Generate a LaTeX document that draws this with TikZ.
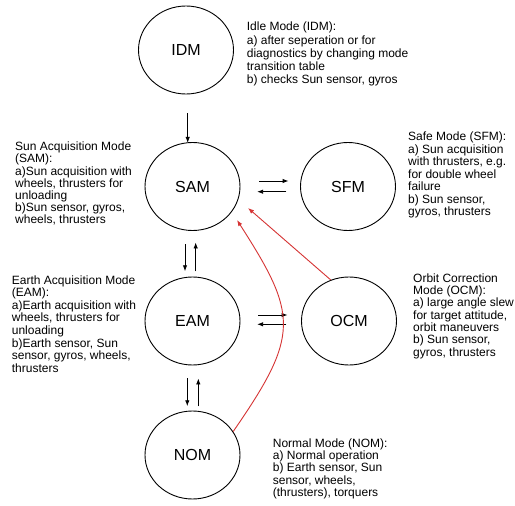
\documentclass[tikz,border=0pt]{standalone}
\usepackage{fontspec}
\setmainfont{Liberation Sans}
\usetikzlibrary{shapes.geometric,arrows.meta,calc}
\definecolor{redline}{RGB}{214,52,52}
\tikzset{
  mode/.style={draw=black, line width=0.9pt, ellipse, minimum width=95pt, minimum height=88pt, inner sep=0pt, font=\fontsize{16}{18}\selectfont},
  desc/.style={anchor=north west, align=left, inner sep=0pt, font=\fontsize{12}{12.5}\selectfont},
  arr/.style={draw=black, line width=0.9pt, -{Latex[length=6pt,width=4.5pt]}},
  redarr/.style={draw=redline, line width=0.9pt, -{Latex[length=6pt,width=4.5pt]}}
}
\begin{document}
\begin{tikzpicture}[x=1pt,y=-1pt]
\fill[white] (0,0) rectangle (515,506);
\useasboundingbox (0,0) rectangle (515,506);

% mode circles
\node[mode] (idm) at (186,50) {IDM};
\node[mode] (sam) at (192.5,186.5) {SAM};
\node[mode] (sfm) at (348,186.5) {SFM};
\node[mode] (eam) at (192.5,321) {EAM};
\node[mode] (ocm) at (349,321) {OCM};
\node[mode] (nom) at (192.5,455) {NOM};

% descriptions
\node[desc, font=\fontsize{12}{13.3}\selectfont] (tidm) at (246.7,21.9) {Idle Mode (IDM):\\a) after seperation or for\\diagnostics by changing mode\\transition table\\b) checks Sun sensor, gyros};
\node[desc, font=\fontsize{12}{12.2}\selectfont] (tsam) at (15,141.9) {Sun Acquisition Mode\\(SAM):\\a)Sun acquisition with\\wheels, thrusters for\\unloading\\b)Sun sensor, gyros,\\wheels, thrusters};
\node[desc] (tsfm) at (408,131.9) {Safe Mode (SFM):\\a) Sun acquisition\\with thrusters, e.g.\\for double wheel\\failure\\b) Sun sensor,\\gyros, thrusters};
\node[desc, font=\fontsize{12}{12.6}\selectfont] (team) at (11.7,275.2) {Earth Acquisition Mode\\(EAM):\\a)Earth acquisition with\\wheels, thrusters for\\unloading\\b)Earth sensor, Sun\\sensor, gyros, wheels,\\thrusters};
\node[desc, font=\fontsize{12}{12.3}\selectfont] (tocm) at (413,273.5) {Orbit Correction\\Mode (OCM):\\a) large angle slew\\for target attitude,\\orbit maneuvers\\b) Sun sensor,\\gyros, thrusters};
\node[desc, font=\fontsize{12}{12.25}\selectfont] (tnom) at (272.7,438.5) {Normal Mode (NOM):\\a) Normal operation\\b) Earth sensor, Sun\\sensor, wheels,\\(thrusters), torquers};

% black transitions
\draw[arr] ($(idm.south)+(1.7,19)$) -- ($(sam.north)+(-4.8,0.8)$);
\draw[arr] ($(sam.east)+(19,-5.5)$) -- ($(sfm.west)+(-11.5,-5.5)$);
\draw[arr] ($(sfm.west)+(-13.8,5.2)$) -- ($(sam.east)+(16.7,5.2)$);
\draw[arr] ($(sam.south)+(-7.5,13.5)$) -- ($(eam.north)+(-7.5,-5.3)$);
\draw[arr] ($(eam.north)+(3.2,-5.3)$) -- ($(sam.south)+(3.2,11.5)$);
\draw[arr] ($(eam.east)+(18,-6)$) -- ($(ocm.west)+(-13.5,-6)$);
\draw[arr] ($(ocm.west)+(-14.8,3.3)$) -- ($(eam.east)+(16.7,3.3)$);
\draw[arr] ($(eam.south)+(-5.2,13)$) -- ($(nom.north)+(-5.2,-4.3)$);
\draw[arr] ($(nom.north)+(5.8,-4.3)$) -- ($(eam.south)+(5.8,13)$);

% red transitions
\draw[redarr] (ocm.114) -- ($(sam.center)+(55.5,21.5)$);
\draw[redarr] (nom.30) .. controls (300,335) and (298,315) .. ($(sam.center)+(44.5,33.5)$);
\end{tikzpicture}
\end{document}
